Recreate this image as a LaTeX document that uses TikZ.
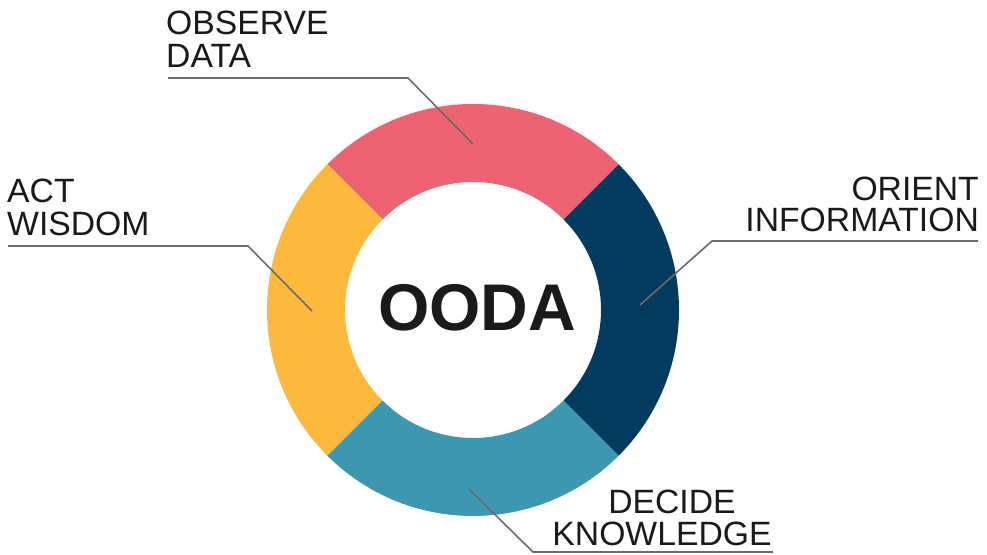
\documentclass[tikz,border=0pt]{standalone}
\usepackage{fontspec}
\setmainfont{Liberation Sans}
\definecolor{segred}{HTML}{EE6371}
\definecolor{segblue}{HTML}{033B5E}
\definecolor{segteal}{HTML}{3E97B0}
\definecolor{segyellow}{HTML}{FDB93B}
\definecolor{txt}{HTML}{1A1A1A}
\definecolor{leader}{HTML}{6B6B6B}
\begin{document}
\begin{tikzpicture}[x=1pt,y=1pt,
  lbl/.style={inner sep=0pt, text=txt, font=\fontsize{33.7}{33}\selectfont},
  leadline/.style={draw=leader, line width=1.6pt, line join=miter}]
\useasboundingbox[fill=white] (0,0) rectangle (987,554);
% ring segments
\begin{scope}[shift={(473,244)}]
\fill[segred] (45:206) arc[start angle=45,end angle=135,radius=206] -- (135:128) arc[start angle=135,end angle=45,radius=128] -- cycle;
\fill[segyellow] (135:206) arc[start angle=135,end angle=225,radius=206] -- (225:128) arc[start angle=225,end angle=135,radius=128] -- cycle;
\fill[segteal] (225:206) arc[start angle=225,end angle=315,radius=206] -- (315:128) arc[start angle=315,end angle=225,radius=128] -- cycle;
\fill[segblue] (-45:206) arc[start angle=-45,end angle=45,radius=206] -- (45:128) arc[start angle=45,end angle=-45,radius=128] -- cycle;
\end{scope}
% centre text
\node[inner sep=0pt, text=txt, font=\fontsize{66}{66}\selectfont\bfseries] (ooda) at (477,246) {OODA};
% labels
\node[lbl, anchor=base west] (obs1) at (166,519) {OBSERVE};
\node[lbl, anchor=base west] (obs2) at (166,486) {DATA};
\node[lbl, anchor=base east] (ori1) at (979,353) {ORIENT};
\node[lbl, anchor=base east] (ori2) at (979,322) {INFORMATION};
\node[lbl, anchor=base west] (act1) at (7,351) {ACT};
\node[lbl, anchor=base west] (act2) at (7,318) {WISDOM};
\node[lbl, anchor=base] (dec1) at (672,41) {DECIDE};
\node[lbl, anchor=base] (dec2) at (662,9) {KNOWLEDGE};
% leader coordinates
\coordinate (obsA) at (168,476);
\coordinate (obsB) at (408,476);
\coordinate (obsC) at (473,410);
\coordinate (oriA) at (978,313);
\coordinate (oriB) at (712,313);
\coordinate (oriC) at (640,249);
\coordinate (actA) at (8,308);
\coordinate (actB) at (248,308);
\coordinate (actC) at (312,243);
\coordinate (decA) at (469,65);
\coordinate (decB) at (533,2);
\coordinate (decC) at (773,2);
\draw[leadline] (obsA) -- (obsB) -- (obsC);
\draw[leadline] (oriA) -- (oriB) -- (oriC);
\draw[leadline] (actA) -- (actB) -- (actC);
\draw[leadline] (decA) -- (decB) -- (decC);
\end{tikzpicture}
\end{document}
